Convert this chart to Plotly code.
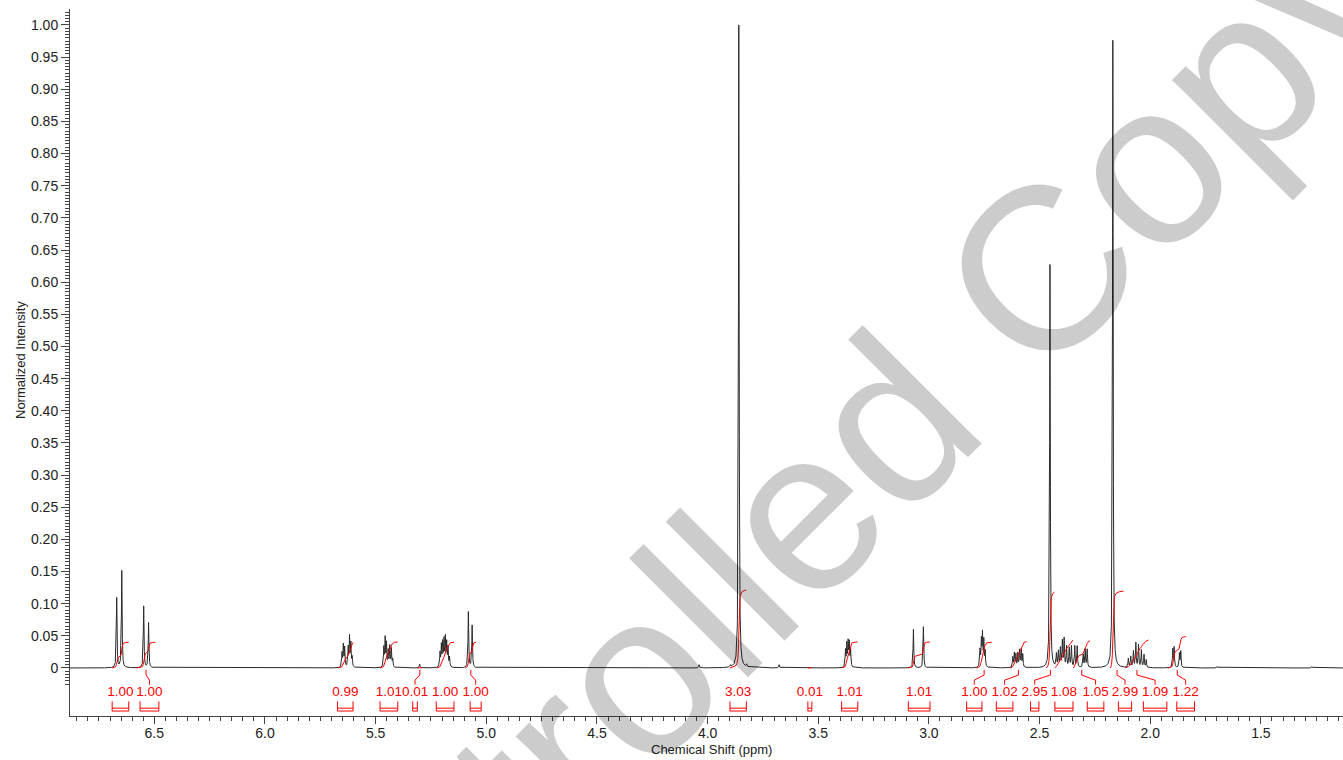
import numpy as np
import plotly.graph_objects as go

# ---------------- data ----------------
# peak positions (ppm) and normalized heights
peak_ppm = [
    6.670, 6.647,
    6.548, 6.526,
    5.652, 5.646, 5.640, 5.624, 5.618, 5.612, 5.606,
    5.463, 5.457, 5.451, 5.443, 5.436, 5.429, 5.423,
    5.301,
    5.209, 5.203, 5.197, 5.191, 5.185, 5.179, 5.173, 5.166,
    5.081, 5.064,
    4.039, 3.897, 3.859, 3.823, 3.677,
    3.377, 3.371, 3.365, 3.360, 3.354,
    3.070, 3.025,
    2.769, 2.763, 2.758, 2.752, 2.746,
    2.621, 2.614, 2.607, 2.598, 2.590, 2.583, 2.576,
    2.453,
    2.424, 2.415, 2.406, 2.397, 2.389, 2.378, 2.366, 2.356,
    2.341, 2.330, 2.303, 2.294, 2.285,
    2.169,
    2.099, 2.088, 2.076, 2.065, 2.053, 2.040, 2.028, 2.018,
    1.898, 1.892, 1.868, 1.862,
    1.699, 1.270,
]
peak_height = [
    0.109, 0.151,
    0.096, 0.070,
    0.022, 0.034, 0.030, 0.030, 0.046, 0.036, 0.015,
    0.030, 0.044, 0.036, 0.025, 0.032, 0.028, 0.012,
    0.006,
    0.022, 0.033, 0.036, 0.040, 0.044, 0.036, 0.030, 0.015,
    0.087, 0.066,
    0.005, 0.003, 1.000, 0.004, 0.005,
    0.026, 0.035, 0.037, 0.036, 0.028,
    0.060, 0.064,
    0.026, 0.040, 0.050, 0.040, 0.024,
    0.016, 0.022, 0.020, 0.022, 0.026, 0.027, 0.020,
    0.627,
    0.020, 0.024, 0.029, 0.040, 0.044, 0.032, 0.030, 0.033,
    0.033, 0.033, 0.020, 0.028, 0.028,
    0.976,
    0.014, 0.017, 0.025, 0.038, 0.035, 0.027, 0.020, 0.012,
    0.028, 0.031, 0.022, 0.025,
    0.002, 0.002,
]
line_hwhm = 0.0018  # ppm, Lorentzian half width

# integration regions (ppm), their values and label positions (ppm)
int_start = [6.690, 6.580, 5.670, 5.480, 5.311, 5.225, 5.095, 3.900, 3.547, 3.395,
             3.093, 2.785, 2.633, 2.470, 2.432, 2.347, 2.180, 2.113, 1.918]
int_end = [6.615, 6.495, 5.600, 5.400, 5.290, 5.145, 5.045, 3.826, 3.529, 3.322,
           2.995, 2.716, 2.558, 2.432, 2.350, 2.272, 2.120, 2.007, 1.838]
int_value = ["1.00", "1.00", "0.99", "1.01", "0.01", "1.00", "1.00", "3.03", "0.01", "1.01",
             "1.01", "1.00", "1.02", "2.95", "1.08", "1.05", "2.99", "1.09", "1.22"]
label_ppm = [6.653, 6.522, 5.637, 5.440, 5.322, 5.186, 5.048, 3.862, 3.538, 3.358,
             3.044, 2.795, 2.658, 2.522, 2.390, 2.247, 2.114, 1.978, 1.840]

x_tick_vals = [6.75, 6.5, 6.25, 6.0, 5.75, 5.5, 5.25, 5.0, 4.75, 4.5, 4.25, 4.0,
               3.75, 3.5, 3.25, 3.0, 2.75, 2.5, 2.25, 2.0, 1.75, 1.5, 1.25]
x_tick_text = ["", "6.5", "", "6.0", "", "5.5", "", "5.0", "", "4.5", "", "4.0",
               "", "3.5", "", "3.0", "", "2.5", "", "2.0", "", "1.5", ""]
y_tick_vals = [-0.025, 0.0, 0.05, 0.10, 0.15, 0.20, 0.25, 0.30, 0.35, 0.40, 0.45, 0.50,
               0.55, 0.60, 0.65, 0.70, 0.75, 0.80, 0.85, 0.90, 0.95, 1.00]
y_tick_text = ["", "0", "0.05", "0.10", "0.15", "0.20", "0.25", "0.30", "0.35", "0.40",
               "0.45", "0.50", "0.55", "0.60", "0.65", "0.70", "0.75", "0.80", "0.85",
               "0.90", "0.95", "1.00"]

# ---------------- layout constants ----------------
X_RANGE = [6.881, 1.129]
Y_RANGE = [-0.0747, 1.0248]
INT_SCALE = 0.04
FONT = "Liberation Sans, Arial, sans-serif"
RED = "#ff0000"

# ---------------- build spectrum ----------------
pp = np.array(peak_ppm)
hh = np.array(peak_height)
grid = np.union1d(np.arange(X_RANGE[1], X_RANGE[0], 0.0004), pp)
spec = np.zeros_like(grid)
for p, h in zip(pp, hh):
    spec += h / (1.0 + ((grid - p) / line_hwhm) ** 2)

fig = go.Figure()
fig.add_trace(go.Scatter(x=grid, y=spec, mode="lines",
                         line=dict(color="#2a2a2a", width=1), hoverinfo="skip"))

# integral curves (cumulative integral of the spectrum in each region)
ix, iy = [], []
lx, ly = [], []
bx, by = [], []
for s, e, v, lp in zip(int_start, int_end, int_value, label_ppm):
    m = (grid <= s) & (grid >= e)
    xs = grid[m][::-1]
    ys = spec[m][::-1]
    cum = np.concatenate([[0.0], np.cumsum((ys[1:] + ys[:-1]) / 2 * np.abs(np.diff(xs)))])
    cum = cum / cum[-1] * float(v) * INT_SCALE
    ix += list(xs) + [None]
    iy += list(cum) + [None]
    c = (s + e) / 2
    if abs(lp - c) > 0.005:
        lx += [c, c, lp, lp, None]
        ly += [-0.003, -0.011, -0.019, -0.026, None]
    half = (s - e) / 2
    l, r = lp + half, lp - half
    bx += [l, l, r, r, None, l, r, None]
    by += [-0.052, -0.067, -0.067, -0.052, None, -0.0625, -0.0625, None]

fig.add_trace(go.Scatter(x=ix, y=iy, mode="lines", line=dict(color=RED, width=1),
                         hoverinfo="skip"))
fig.add_trace(go.Scatter(x=lx, y=ly, mode="lines", line=dict(color=RED, width=1),
                         hoverinfo="skip"))
fig.add_trace(go.Scatter(x=bx, y=by, mode="lines", line=dict(color=RED, width=1),
                         hoverinfo="skip"))
fig.add_trace(go.Scatter(x=label_ppm, y=[-0.038] * len(label_ppm), mode="text",
                         text=int_value, textfont=dict(family=FONT, size=13.5, color=RED),
                         hoverinfo="skip"))

x_minor = [round(v, 3) for v in np.arange(1.15, 6.90, 0.05)]
y_minor = [round(v, 3) for v in np.arange(-0.025, 1.0226, 0.005)]

fig.update_layout(
    width=1343, height=760,
    margin=dict(l=70, r=0, t=9, b=44),
    paper_bgcolor="white", plot_bgcolor="white",
    showlegend=False,
    font=dict(family=FONT, size=14, color="#222"),
    xaxis=dict(range=X_RANGE, showgrid=False, zeroline=False, showline=True,
               linecolor="#444", linewidth=1, ticks="outside", ticklen=7, tickcolor="#444",
               tickmode="array", tickvals=x_tick_vals, ticktext=x_tick_text,
               tickfont=dict(size=14, color="#222"), ticklabelstandoff=-3,
               minor=dict(tickmode="array", tickvals=x_minor, ticks="outside",
                          ticklen=4, tickcolor="#444", showgrid=False)),
    yaxis=dict(range=Y_RANGE, showgrid=False, zeroline=False, showline=True,
               linecolor="#444", linewidth=1, ticks="outside", ticklen=8, tickcolor="#444",
               tickmode="array", tickvals=y_tick_vals, ticktext=y_tick_text,
               tickfont=dict(size=14, color="#222"),
               minor=dict(tickmode="array", tickvals=y_minor, ticks="outside",
                          ticklen=4, tickcolor="#444", showgrid=False)),
    annotations=[
        dict(text="Chemical Shift (ppm)", xref="paper", yref="paper", x=0.504, y=-0.0475,
             xanchor="center", yanchor="middle", showarrow=False,
             font=dict(family=FONT, size=13, color="#222")),
        dict(text="Normalized Intensity", xref="paper", yref="paper", x=-0.0393, y=0.5035,
             xanchor="center", yanchor="middle", showarrow=False, textangle=-90,
             font=dict(family=FONT, size=13, color="#222")),
        dict(text="Controlled Copy", xref="paper", yref="paper", x=0.5545, y=0.2555,
             xanchor="center", yanchor="middle", showarrow=False, textangle=-45,
             font=dict(family=FONT, size=232, color="rgba(0,0,0,0.2)")),
    ],
)

fig.write_html("out.html", config={"displayModeBar": False},
               post_script="document.body.style.margin='0';document.body.style.overflow='hidden';")
